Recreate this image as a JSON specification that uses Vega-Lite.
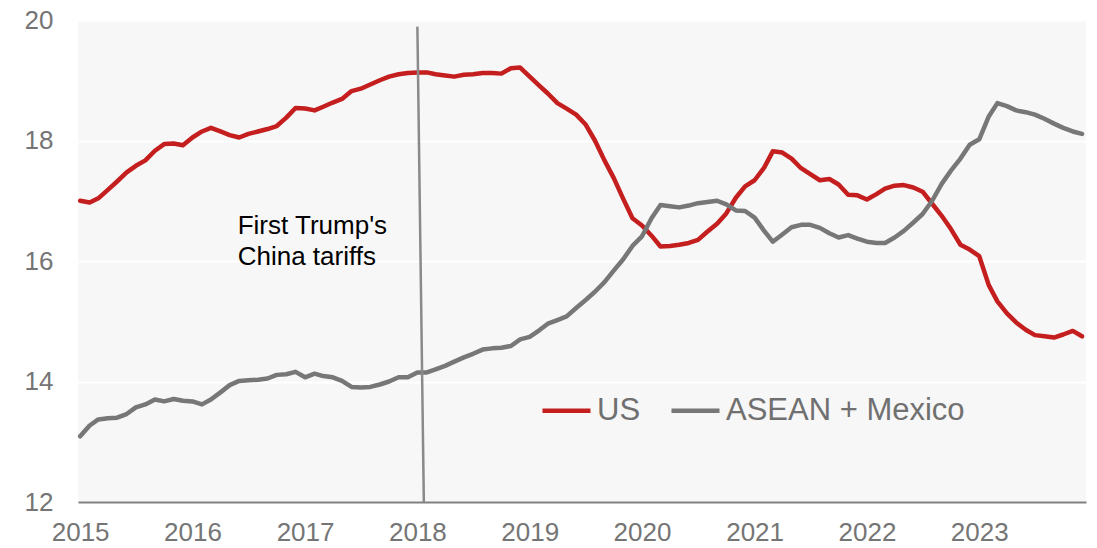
{
  "$schema": "https://vega.github.io/schema/vega-lite/v6.json",
  "width": 1008,
  "height": 482,
  "autosize": {"type": "none"},
  "padding": {"left": 78, "top": 20, "right": 11, "bottom": 46},
  "background": "white",
  "config": {"view": {"fill": "#f7f7f7", "stroke": null}, "font": "Liberation Sans"},
  "datasets": {
    "series": [
      {"date":"2015-01-01","series":"US","value":17.0},{"date":"2015-02-01","series":"US","value":16.97},{"date":"2015-03-01","series":"US","value":17.04},{"date":"2015-04-01","series":"US","value":17.18},{"date":"2015-05-01","series":"US","value":17.32},{"date":"2015-06-01","series":"US","value":17.47},{"date":"2015-07-01","series":"US","value":17.58},{"date":"2015-08-01","series":"US","value":17.67},{"date":"2015-09-01","series":"US","value":17.83},{"date":"2015-10-01","series":"US","value":17.94},{"date":"2015-11-01","series":"US","value":17.95},{"date":"2015-12-01","series":"US","value":17.92},
      {"date":"2016-01-01","series":"US","value":18.05},{"date":"2016-02-01","series":"US","value":18.15},{"date":"2016-03-01","series":"US","value":18.21},{"date":"2016-04-01","series":"US","value":18.15},{"date":"2016-05-01","series":"US","value":18.09},{"date":"2016-06-01","series":"US","value":18.05},{"date":"2016-07-01","series":"US","value":18.11},{"date":"2016-08-01","series":"US","value":18.15},{"date":"2016-09-01","series":"US","value":18.19},{"date":"2016-10-01","series":"US","value":18.24},{"date":"2016-11-01","series":"US","value":18.38},{"date":"2016-12-01","series":"US","value":18.54},
      {"date":"2017-01-01","series":"US","value":18.53},{"date":"2017-02-01","series":"US","value":18.5},{"date":"2017-03-01","series":"US","value":18.56},{"date":"2017-04-01","series":"US","value":18.63},{"date":"2017-05-01","series":"US","value":18.69},{"date":"2017-06-01","series":"US","value":18.82},{"date":"2017-07-01","series":"US","value":18.86},{"date":"2017-08-01","series":"US","value":18.93},{"date":"2017-09-01","series":"US","value":19.0},{"date":"2017-10-01","series":"US","value":19.06},{"date":"2017-11-01","series":"US","value":19.1},{"date":"2017-12-01","series":"US","value":19.12},
      {"date":"2018-01-01","series":"US","value":19.13},{"date":"2018-02-01","series":"US","value":19.13},{"date":"2018-03-01","series":"US","value":19.1},{"date":"2018-04-01","series":"US","value":19.08},{"date":"2018-05-01","series":"US","value":19.06},{"date":"2018-06-01","series":"US","value":19.09},{"date":"2018-07-01","series":"US","value":19.1},{"date":"2018-08-01","series":"US","value":19.12},{"date":"2018-09-01","series":"US","value":19.12},{"date":"2018-10-01","series":"US","value":19.11},{"date":"2018-11-01","series":"US","value":19.2},{"date":"2018-12-01","series":"US","value":19.21},
      {"date":"2019-01-01","series":"US","value":19.06},{"date":"2019-02-01","series":"US","value":18.91},{"date":"2019-03-01","series":"US","value":18.78},{"date":"2019-04-01","series":"US","value":18.62},{"date":"2019-05-01","series":"US","value":18.53},{"date":"2019-06-01","series":"US","value":18.43},{"date":"2019-07-01","series":"US","value":18.27},{"date":"2019-08-01","series":"US","value":18.0},{"date":"2019-09-01","series":"US","value":17.67},{"date":"2019-10-01","series":"US","value":17.38},{"date":"2019-11-01","series":"US","value":17.03},{"date":"2019-12-01","series":"US","value":16.71},
      {"date":"2020-01-01","series":"US","value":16.59},{"date":"2020-02-01","series":"US","value":16.42},{"date":"2020-03-01","series":"US","value":16.24},{"date":"2020-04-01","series":"US","value":16.25},{"date":"2020-05-01","series":"US","value":16.27},{"date":"2020-06-01","series":"US","value":16.3},{"date":"2020-07-01","series":"US","value":16.35},{"date":"2020-08-01","series":"US","value":16.49},{"date":"2020-09-01","series":"US","value":16.62},{"date":"2020-10-01","series":"US","value":16.79},{"date":"2020-11-01","series":"US","value":17.05},{"date":"2020-12-01","series":"US","value":17.24},
      {"date":"2021-01-01","series":"US","value":17.34},{"date":"2021-02-01","series":"US","value":17.55},{"date":"2021-03-01","series":"US","value":17.82},{"date":"2021-04-01","series":"US","value":17.8},{"date":"2021-05-01","series":"US","value":17.7},{"date":"2021-06-01","series":"US","value":17.54},{"date":"2021-07-01","series":"US","value":17.44},{"date":"2021-08-01","series":"US","value":17.34},{"date":"2021-09-01","series":"US","value":17.36},{"date":"2021-10-01","series":"US","value":17.27},{"date":"2021-11-01","series":"US","value":17.1},{"date":"2021-12-01","series":"US","value":17.09},
      {"date":"2022-01-01","series":"US","value":17.02},{"date":"2022-02-01","series":"US","value":17.11},{"date":"2022-03-01","series":"US","value":17.2},{"date":"2022-04-01","series":"US","value":17.25},{"date":"2022-05-01","series":"US","value":17.26},{"date":"2022-06-01","series":"US","value":17.22},{"date":"2022-07-01","series":"US","value":17.15},{"date":"2022-08-01","series":"US","value":16.95},{"date":"2022-09-01","series":"US","value":16.75},{"date":"2022-10-01","series":"US","value":16.53},{"date":"2022-11-01","series":"US","value":16.27},{"date":"2022-12-01","series":"US","value":16.19},
      {"date":"2023-01-01","series":"US","value":16.08},{"date":"2023-02-01","series":"US","value":15.6},{"date":"2023-03-01","series":"US","value":15.33},{"date":"2023-04-01","series":"US","value":15.13},{"date":"2023-05-01","series":"US","value":14.98},{"date":"2023-06-01","series":"US","value":14.86},{"date":"2023-07-01","series":"US","value":14.77},{"date":"2023-08-01","series":"US","value":14.75},{"date":"2023-09-01","series":"US","value":14.73},{"date":"2023-10-01","series":"US","value":14.78},{"date":"2023-11-01","series":"US","value":14.84},{"date":"2023-12-01","series":"US","value":14.75},
      {"date":"2015-01-01","series":"ASEAN + Mexico","value":13.09},{"date":"2015-02-01","series":"ASEAN + Mexico","value":13.27},{"date":"2015-03-01","series":"ASEAN + Mexico","value":13.37},{"date":"2015-04-01","series":"ASEAN + Mexico","value":13.39},{"date":"2015-05-01","series":"ASEAN + Mexico","value":13.4},{"date":"2015-06-01","series":"ASEAN + Mexico","value":13.46},{"date":"2015-07-01","series":"ASEAN + Mexico","value":13.57},{"date":"2015-08-01","series":"ASEAN + Mexico","value":13.62},{"date":"2015-09-01","series":"ASEAN + Mexico","value":13.7},{"date":"2015-10-01","series":"ASEAN + Mexico","value":13.67},{"date":"2015-11-01","series":"ASEAN + Mexico","value":13.71},{"date":"2015-12-01","series":"ASEAN + Mexico","value":13.68},
      {"date":"2016-01-01","series":"ASEAN + Mexico","value":13.67},{"date":"2016-02-01","series":"ASEAN + Mexico","value":13.62},{"date":"2016-03-01","series":"ASEAN + Mexico","value":13.7},{"date":"2016-04-01","series":"ASEAN + Mexico","value":13.82},{"date":"2016-05-01","series":"ASEAN + Mexico","value":13.94},{"date":"2016-06-01","series":"ASEAN + Mexico","value":14.01},{"date":"2016-07-01","series":"ASEAN + Mexico","value":14.02},{"date":"2016-08-01","series":"ASEAN + Mexico","value":14.03},{"date":"2016-09-01","series":"ASEAN + Mexico","value":14.05},{"date":"2016-10-01","series":"ASEAN + Mexico","value":14.11},{"date":"2016-11-01","series":"ASEAN + Mexico","value":14.12},{"date":"2016-12-01","series":"ASEAN + Mexico","value":14.16},
      {"date":"2017-01-01","series":"ASEAN + Mexico","value":14.07},{"date":"2017-02-01","series":"ASEAN + Mexico","value":14.13},{"date":"2017-03-01","series":"ASEAN + Mexico","value":14.09},{"date":"2017-04-01","series":"ASEAN + Mexico","value":14.07},{"date":"2017-05-01","series":"ASEAN + Mexico","value":14.01},{"date":"2017-06-01","series":"ASEAN + Mexico","value":13.91},{"date":"2017-07-01","series":"ASEAN + Mexico","value":13.9},{"date":"2017-08-01","series":"ASEAN + Mexico","value":13.91},{"date":"2017-09-01","series":"ASEAN + Mexico","value":13.95},{"date":"2017-10-01","series":"ASEAN + Mexico","value":14.0},{"date":"2017-11-01","series":"ASEAN + Mexico","value":14.07},{"date":"2017-12-01","series":"ASEAN + Mexico","value":14.07},
      {"date":"2018-01-01","series":"ASEAN + Mexico","value":14.15},{"date":"2018-02-01","series":"ASEAN + Mexico","value":14.15},{"date":"2018-03-01","series":"ASEAN + Mexico","value":14.2},{"date":"2018-04-01","series":"ASEAN + Mexico","value":14.26},{"date":"2018-05-01","series":"ASEAN + Mexico","value":14.33},{"date":"2018-06-01","series":"ASEAN + Mexico","value":14.4},{"date":"2018-07-01","series":"ASEAN + Mexico","value":14.46},{"date":"2018-08-01","series":"ASEAN + Mexico","value":14.53},{"date":"2018-09-01","series":"ASEAN + Mexico","value":14.55},{"date":"2018-10-01","series":"ASEAN + Mexico","value":14.56},{"date":"2018-11-01","series":"ASEAN + Mexico","value":14.59},{"date":"2018-12-01","series":"ASEAN + Mexico","value":14.7},
      {"date":"2019-01-01","series":"ASEAN + Mexico","value":14.74},{"date":"2019-02-01","series":"ASEAN + Mexico","value":14.85},{"date":"2019-03-01","series":"ASEAN + Mexico","value":14.96},{"date":"2019-04-01","series":"ASEAN + Mexico","value":15.02},{"date":"2019-05-01","series":"ASEAN + Mexico","value":15.08},{"date":"2019-06-01","series":"ASEAN + Mexico","value":15.22},{"date":"2019-07-01","series":"ASEAN + Mexico","value":15.35},{"date":"2019-08-01","series":"ASEAN + Mexico","value":15.49},{"date":"2019-09-01","series":"ASEAN + Mexico","value":15.65},{"date":"2019-10-01","series":"ASEAN + Mexico","value":15.84},{"date":"2019-11-01","series":"ASEAN + Mexico","value":16.03},{"date":"2019-12-01","series":"ASEAN + Mexico","value":16.25},
      {"date":"2020-01-01","series":"ASEAN + Mexico","value":16.41},{"date":"2020-02-01","series":"ASEAN + Mexico","value":16.71},{"date":"2020-03-01","series":"ASEAN + Mexico","value":16.93},{"date":"2020-04-01","series":"ASEAN + Mexico","value":16.91},{"date":"2020-05-01","series":"ASEAN + Mexico","value":16.89},{"date":"2020-06-01","series":"ASEAN + Mexico","value":16.92},{"date":"2020-07-01","series":"ASEAN + Mexico","value":16.96},{"date":"2020-08-01","series":"ASEAN + Mexico","value":16.98},{"date":"2020-09-01","series":"ASEAN + Mexico","value":17.0},{"date":"2020-10-01","series":"ASEAN + Mexico","value":16.94},{"date":"2020-11-01","series":"ASEAN + Mexico","value":16.84},{"date":"2020-12-01","series":"ASEAN + Mexico","value":16.83},
      {"date":"2021-01-01","series":"ASEAN + Mexico","value":16.72},{"date":"2021-02-01","series":"ASEAN + Mexico","value":16.5},{"date":"2021-03-01","series":"ASEAN + Mexico","value":16.32},{"date":"2021-04-01","series":"ASEAN + Mexico","value":16.44},{"date":"2021-05-01","series":"ASEAN + Mexico","value":16.56},{"date":"2021-06-01","series":"ASEAN + Mexico","value":16.6},{"date":"2021-07-01","series":"ASEAN + Mexico","value":16.6},{"date":"2021-08-01","series":"ASEAN + Mexico","value":16.55},{"date":"2021-09-01","series":"ASEAN + Mexico","value":16.46},{"date":"2021-10-01","series":"ASEAN + Mexico","value":16.39},{"date":"2021-11-01","series":"ASEAN + Mexico","value":16.43},{"date":"2021-12-01","series":"ASEAN + Mexico","value":16.37},
      {"date":"2022-01-01","series":"ASEAN + Mexico","value":16.32},{"date":"2022-02-01","series":"ASEAN + Mexico","value":16.3},{"date":"2022-03-01","series":"ASEAN + Mexico","value":16.3},{"date":"2022-04-01","series":"ASEAN + Mexico","value":16.39},{"date":"2022-05-01","series":"ASEAN + Mexico","value":16.5},{"date":"2022-06-01","series":"ASEAN + Mexico","value":16.64},{"date":"2022-07-01","series":"ASEAN + Mexico","value":16.78},{"date":"2022-08-01","series":"ASEAN + Mexico","value":17.0},{"date":"2022-09-01","series":"ASEAN + Mexico","value":17.28},{"date":"2022-10-01","series":"ASEAN + Mexico","value":17.5},{"date":"2022-11-01","series":"ASEAN + Mexico","value":17.7},{"date":"2022-12-01","series":"ASEAN + Mexico","value":17.93},
      {"date":"2023-01-01","series":"ASEAN + Mexico","value":18.02},{"date":"2023-02-01","series":"ASEAN + Mexico","value":18.4},{"date":"2023-03-01","series":"ASEAN + Mexico","value":18.62},{"date":"2023-04-01","series":"ASEAN + Mexico","value":18.57},{"date":"2023-05-01","series":"ASEAN + Mexico","value":18.5},{"date":"2023-06-01","series":"ASEAN + Mexico","value":18.47},{"date":"2023-07-01","series":"ASEAN + Mexico","value":18.43},{"date":"2023-08-01","series":"ASEAN + Mexico","value":18.36},{"date":"2023-09-01","series":"ASEAN + Mexico","value":18.28},{"date":"2023-10-01","series":"ASEAN + Mexico","value":18.21},{"date":"2023-11-01","series":"ASEAN + Mexico","value":18.15},{"date":"2023-12-01","series":"ASEAN + Mexico","value":18.11}
    ],
    "marker": [
      {"start": "2018-01-01", "end": "2018-01-22", "top": 19.89, "bottom": 12}
    ],
    "notes": [
      {"date": "2016-05-27", "value": 16.443, "label": "First Trump's"},
      {"date": "2016-05-27", "value": 15.929, "label": "China tariffs"}
    ]
  },
  "layer": [
    {
      "data": {"name": "series"},
      "mark": {"type": "line", "strokeWidth": 4.5, "strokeJoin": "round", "strokeCap": "round"},
      "encoding": {
        "x": {
          "field": "date", "type": "temporal",
          "scale": {"type": "utc", "domain": [{"year": 2014, "month": 12, "date": 25, "utc": true}, {"year": 2023, "month": 12, "date": 14, "utc": true}]},
          "axis": {
            "title": null, "format": "%Y", "tickCount": {"interval": "year", "step": 1},
            "grid": false, "ticks": false, "domainColor": "#808080", "domainWidth": 2,
            "labelFontSize": 26, "labelColor": "#757575", "labelPadding": 17,
            "labelFlush": false, "labelOverlap": false, "labelFont": "Liberation Sans"
          }
        },
        "y": {
          "field": "value", "type": "quantitative",
          "scale": {"domain": [12, 20], "nice": false, "zero": false},
          "axis": {
            "title": null, "values": [12, 14, 16, 18, 20], "format": "d", "grid": true, "gridColor": "#ffffff", "gridWidth": 2,
            "domain": false, "ticks": false, "labelFontSize": 26, "labelColor": "#757575",
            "labelPadding": 25, "labelFont": "Liberation Sans"
          }
        },
        "color": {
          "field": "series", "type": "nominal",
          "scale": {"domain": ["US", "ASEAN + Mexico"], "range": ["#C41E1E", "#777777"]},
          "legend": {
            "orient": "none", "legendX": 462, "legendY": 364, "direction": "horizontal",
            "title": null, "symbolType": "stroke", "symbolSize": 2304, "symbolStrokeWidth": 4.5,
            "labelFontSize": 31, "labelColor": "#707070", "labelOffset": 4, "columnPadding": 21,
            "labelLimit": 500, "padding": 0, "labelFont": "Liberation Sans"
          }
        }
      }
    },
    {
      "data": {"name": "marker"},
      "mark": {"type": "rule", "color": "#8a8a8a", "strokeWidth": 2.5},
      "encoding": {
        "x": {"field": "start", "type": "temporal"},
        "x2": {"field": "end"},
        "y": {"field": "top", "type": "quantitative"},
        "y2": {"field": "bottom"}
      }
    },
    {
      "data": {"name": "notes"},
      "mark": {"type": "text", "align": "left", "baseline": "alphabetic", "fontSize": 26, "color": "#000000", "font": "Liberation Sans"},
      "encoding": {
        "x": {"field": "date", "type": "temporal"},
        "y": {"field": "value", "type": "quantitative"},
        "text": {"field": "label"}
      }
    }
  ]
}
